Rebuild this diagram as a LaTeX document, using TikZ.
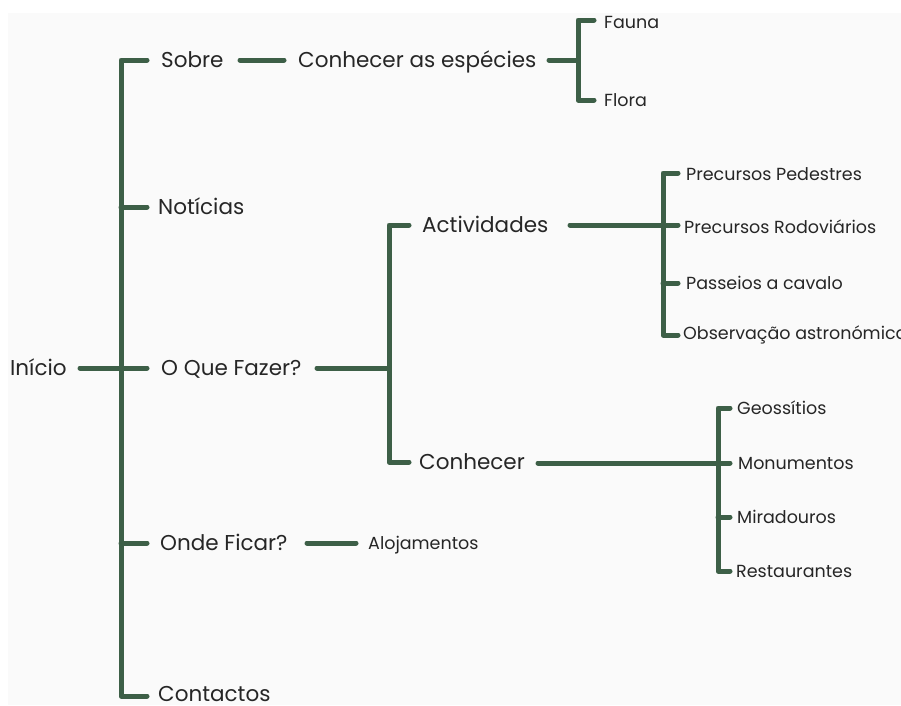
\documentclass[tikz,border=0pt]{standalone}
\usepackage{fontspec}
\setmainfont{Poppins}
\definecolor{lgreen}{HTML}{3D5F47}
\definecolor{bgray}{HTML}{FAFAFA}
\begin{document}
\begin{tikzpicture}[x=1pt,y=-1pt,
  br/.style={line width=5pt, draw=lgreen, line cap=round, line join=round},
  big/.style={anchor=base west, inner sep=0pt, yshift=-7.5pt, font=\fontsize{21.5}{24}\selectfont, text=black!85},
  leaf/.style={anchor=base west, inner sep=0pt, yshift=-6.1pt, font=\fontsize{17.5}{20}\selectfont, text=black!85}]
\useasboundingbox (0,0) rectangle (901,705);
\fill[bgray] (8,13) rectangle (901,705);
% nodes
\node[big] (inicio) at (10,368) {Início};
\node[big] (sobre) at (161,60) {Sobre};
\node[big] (noticias) at (158,207) {Notícias};
\node[big] (oque) at (161,368) {O Que Fazer?};
\node[big] (onde) at (160,543) {Onde Ficar?};
\node[big] (contactos) at (158,694) {Contactos};
\node[big] (especies) at (298,60) {Conhecer as espécies};
\node[leaf] (fauna) at (604,22) {Fauna};
\node[leaf] (flora) at (604,100) {Flora};
\node[big] (activ) at (422,225) {Actividades};
\node[big] (conhecer) at (419,462) {Conhecer};
\node[leaf] (alojamentos) at (368,543) {Alojamentos};
\node[leaf] (pedestres) at (686,174) {Precursos Pedestres};
\node[leaf] (rodov) at (684,227) {Precursos Rodoviários};
\node[leaf] (passeios) at (686,283) {Passeios a cavalo};
\node[leaf] (observ) at (683,333) {Observação astronómica};
\node[leaf] (geo) at (737,408) {Geossítios};
\node[leaf] (monum) at (738,463) {Monumentos};
\node[leaf] (mirad) at (737,517) {Miradouros};
\node[leaf] (restau) at (736,571) {Restaurantes};
% junction coordinates
\coordinate (t1) at (121,60);
\coordinate (t2) at (121,696);
\coordinate (j1) at (121,368);
\coordinate (s1) at (578,20);
\coordinate (s2) at (578,100);
\coordinate (s0) at (578,60);
\coordinate (a1) at (389,225);
\coordinate (a2) at (389,462);
\coordinate (a0) at (389,368);
\coordinate (b1) at (663,173);
\coordinate (b2) at (663,335);
\coordinate (b0) at (663,225);
\coordinate (c1) at (718,408);
\coordinate (c2) at (718,571);
\coordinate (c0) at (718,463);
% trunk
\draw[br] (147,60) -- (t1) -- (t2) -- (147,696);
\draw[br] (80,368) -- (147,368);
\draw[br] (121,207) -- (147,207);
\draw[br] (121,543) -- (147,543);
% sobre
\draw[br] (240,60) -- (284,60);
\draw[br] (549,60) -- (s0);
\draw[br] (594,20) -- (s1) -- (s2) -- (594,100);
% o que fazer
\draw[br] (317,368) -- (a0);
\draw[br] (409,225) -- (a1) -- (a2) -- (409,462);
% actividades
\draw[br] (570,225) -- (678,225);
\draw[br] (678,173) -- (b1) -- (b2) -- (678,335);
\draw[br] (663,283) -- (678,283);
% conhecer
\draw[br] (538,463) -- (730,463);
\draw[br] (730,408) -- (c1) -- (c2) -- (730,571);
\draw[br] (718,517) -- (730,517);
% onde ficar
\draw[br] (307,543) -- (356,543);
\end{tikzpicture}
\end{document}
